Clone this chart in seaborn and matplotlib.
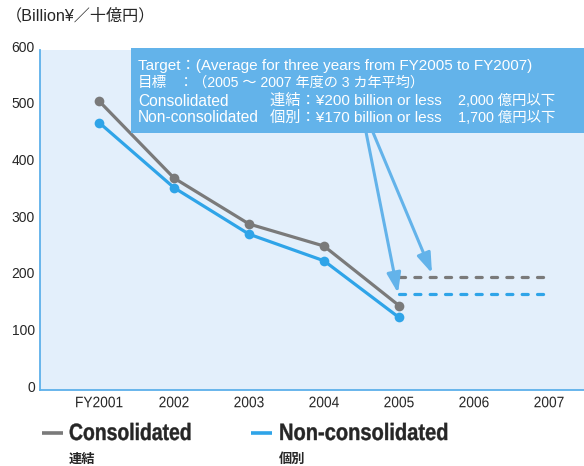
import matplotlib
matplotlib.use("Agg")
import matplotlib.pyplot as plt
import matplotlib.transforms as mtrans
from matplotlib.transforms import Affine2D
from matplotlib.patches import Rectangle
from matplotlib.lines import Line2D
from matplotlib.patheffects import AbstractPathEffect
import seaborn as sns
import pandas as pd

years = ["FY2001", "2002", "2003", "2004", "2005", "2006", "2007"]
consolidated = [510, 374, 293, 254, 149]
non_consolidated = [472, 357, 275, 228, 128]
target_consolidated = 200
target_non_consolidated = 170
target_years = ["2005", "2007"]
yticks = [0, 100, 200, 300, 400, 500, 600]

GRAY = "#7a7a7a"
BLUE = "#2fa4e8"
BOX = "#63b3ea"
BG = "#e3effb"
SPINE = "#5db0ea"

LATJP = ["Liberation Sans", "Noto Sans CJK JP", "DejaVu Sans"]


class Squeeze(AbstractPathEffect):
    """Horizontally condense (and optionally embolden) text glyphs."""
    def __init__(self, sx, anchor="center", stroke=0.0):
        super().__init__()
        self.sx = sx
        self.anchor = anchor
        self.stroke = stroke

    def draw_path(self, renderer, gc, tpath, affine, rgbFace=None):
        v = tpath.vertices
        cx = 0.0
        if self.anchor == "center" and len(v):
            cx = (v[:, 0].min() + v[:, 0].max()) / 2
        t = Affine2D().translate(-cx, 0).scale(self.sx, 1).translate(cx, 0)
        if self.stroke > 0 and rgbFace is not None:
            gc0 = renderer.new_gc()
            gc0.copy_properties(gc)
            gc0.set_linewidth(self.stroke)
            gc0.set_foreground(rgbFace)
            gc0.set_joinstyle("miter")
            renderer.draw_path(gc0, tpath, t + affine, rgbFace)
            gc0.restore()
        else:
            renderer.draw_path(gc, tpath, t + affine, rgbFace)


sns.set_style("white")
plt.rcParams["font.family"] = LATJP

fig = plt.figure(figsize=(5.84, 4.66), dpi=100)
W, H = 584, 466
ax = fig.add_axes([40 / W, (H - 390) / H, (584 - 40) / W, (390 - 50) / H])
ax.set_facecolor(BG)

pos = {y: i for i, y in enumerate(years)}
df = pd.DataFrame({
    "x": [pos[y] for y in years[:5]] * 2,
    "v": consolidated + non_consolidated,
    "s": ["Consolidated"] * 5 + ["Non-consolidated"] * 5,
})
sns.lineplot(data=df, x="x", y="v", hue="s", palette={"Consolidated": GRAY, "Non-consolidated": BLUE},
             marker="o", markersize=7, markeredgewidth=0, linewidth=2.3, legend=False, ax=ax, zorder=3)

tdf = pd.DataFrame({
    "x": [pos[y] for y in target_years] * 2,
    "v": [target_consolidated] * 2 + [target_non_consolidated] * 2,
    "s": ["c", "c", "n", "n"],
})
for s, col in [("c", GRAY), ("n", BLUE)]:
    d = tdf[tdf.s == s]
    sns.lineplot(data=d, x="x", y="v", color=col, linewidth=2.3, ax=ax, legend=False, zorder=3)
    l = ax.lines[-1]
    l.set_dashes((1.9, 2.9))
    l.set_dash_capstyle("round")

ax.set_xlim(-0.787, 6.467)
ax.set_ylim(0, 600)
ax.set_xticks(range(len(years)))
ax.set_xticklabels(years, fontsize=11, family="Liberation Sans")
ax.set_yticks(yticks)
ax.set_yticklabels([str(t) for t in yticks], fontsize=10, family="Liberation Sans")
ax.set_xlabel("")
ax.set_ylabel("")
ax.tick_params(axis="y", length=0, pad=3.6)
ax.tick_params(axis="x", length=0, pad=4.5)
off = mtrans.ScaledTranslation(0, 4 / 100, fig.dpi_scale_trans)
for lab in ax.get_yticklabels():
    lab.set_transform(lab.get_transform() + off)
for lab in ax.get_xticklabels():
    lab.set_path_effects([Squeeze(0.9, "center")])
for side in ["top", "right"]:
    ax.spines[side].set_visible(False)
for side in ["left", "bottom"]:
    ax.spines[side].set_color(SPINE)
    ax.spines[side].set_linewidth(1.3)

# annotation box
ax.add_patch(Rectangle((0.167, 0.756), 0.84, 0.25, transform=ax.transAxes, facecolor=BOX,
                       edgecolor="none", zorder=4, clip_on=False))
tk = dict(transform=ax.transAxes, color="white", va="center", ha="left", zorder=6, family=LATJP)
x0 = (138 - 40) / 544
ax.text(x0, 0.953, "Target：(Average for three years from FY2005 to FY2007)", fontsize=11, **tk)
ax.text(x0, 0.903, "目標", fontsize=10.5, **tk)
ax.text((179 - 40) / 544, 0.903, "：（2005 ～ 2007 年度の 3 カ年平均）", fontsize=10.2, **tk)
ax.text(x0, 0.850, "Consolidated", fontsize=11.2, **tk)
ax.text(x0, 0.800, "Non-consolidated", fontsize=11.2, **tk)
ax.text((270 - 40) / 544, 0.850, "連結：¥200 billion or less", fontsize=11, **tk)
ax.text((270 - 40) / 544, 0.800, "個別：¥170 billion or less", fontsize=11, **tk)
ax.text((458 - 40) / 544, 0.850, "2,000 億円以下", fontsize=10.4, **tk)
ax.text((458 - 40) / 544, 0.800, "1,700 億円以下", fontsize=10.4, **tk)

ap = dict(arrowstyle="-|>,head_length=1.2,head_width=0.42", color=BOX, lw=2.2,
          mutation_scale=10, shrinkA=0, shrinkB=0)
ax.annotate("", xy=(3.987, 171), xytext=(3.55, 462), arrowprops=ap, zorder=5)
ax.annotate("", xy=(4.44, 206), xytext=(3.63, 462), arrowprops=ap, zorder=5)

# unit label
fig.text(6 / W, 1 - 16 / H, "（Billion¥／十億円）", fontsize=11.6, va="center", ha="left", family=LATJP)

# legend
def legend_item(x_line, x_text, col, label, sub, sx):
    fig.add_artist(Line2D([x_line / W, (x_line + 21) / W], [1 - 433 / H] * 2, color=col, lw=2.6,
                          solid_capstyle="butt", transform=fig.transFigure))
    t = fig.text(x_text / W, 1 - 440 / H, label, fontsize=17, fontweight="bold",
                 family="Liberation Sans", va="baseline", ha="left")
    t.set_path_effects([Squeeze(sx, "left", stroke=0.3)])
    fig.text(x_text / W, 1 - 459 / H, sub, fontsize=9.5, fontweight="bold",
             family=["Noto Sans CJK JP"], va="center", ha="left")

legend_item(42, 69, GRAY, "Consolidated", "連結", 0.82)
legend_item(251, 279, BLUE, "Non-consolidated", "個別", 0.85)

fig.savefig("out.png", dpi=100)
